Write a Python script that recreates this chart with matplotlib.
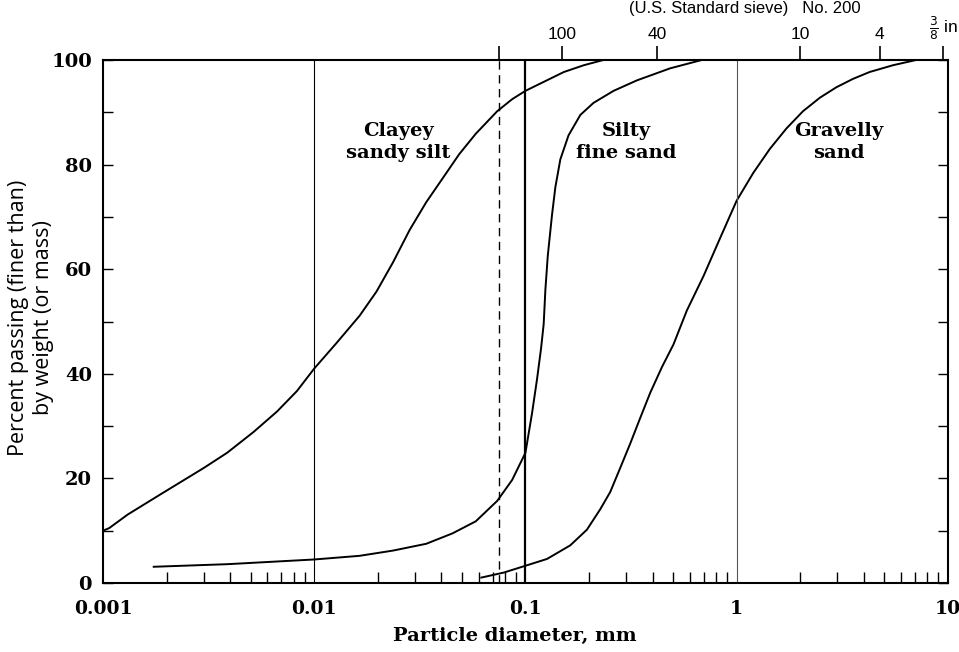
import matplotlib
matplotlib.use("Agg")
import matplotlib.pyplot as plt
from matplotlib.ticker import FixedLocator, NullFormatter, NullLocator, LogLocator

# ---- data ----
clay_d = [0.001, 0.00107, 0.00131, 0.00188, 0.00242, 0.0030, 0.00387, 0.00517, 0.00667,
          0.00828, 0.01, 0.01276, 0.0164, 0.0197, 0.0236, 0.0283, 0.0339, 0.0406, 0.0486,
          0.0582, 0.0735, 0.0865, 0.1, 0.152, 0.189, 0.234]
clay_p = [10.0, 10.5, 13.1, 17.0, 19.7, 22.0, 24.9, 28.9, 32.8,
          36.7, 41.0, 45.9, 51.1, 55.7, 61.3, 67.5, 72.8, 77.4, 82.0,
          85.9, 90.2, 92.5, 94.1, 97.7, 99.0, 100.0]

silt_d = [0.00172, 0.00387, 0.01, 0.0164, 0.0236, 0.0339, 0.0452, 0.0582, 0.0735, 0.0865,
          0.1, 0.1075, 0.1135, 0.1186, 0.122, 0.1243, 0.1276, 0.1337, 0.1386, 0.1463,
          0.160, 0.182, 0.210, 0.2614, 0.337, 0.484, 0.684]
silt_p = [3.1, 3.6, 4.5, 5.2, 6.2, 7.5, 9.5, 11.8, 15.7, 19.7,
          24.9, 32.5, 39.0, 44.9, 49.5, 56.1, 62.6, 70.5, 75.7, 81.0,
          85.6, 89.5, 91.8, 94.1, 96.1, 98.4, 100.0]

grav_d = [0.0612, 0.079, 0.1, 0.1265, 0.163, 0.1955, 0.226, 0.252, 0.281, 0.313,
          0.349, 0.39, 0.443, 0.502, 0.581, 0.697, 0.834, 1.0, 1.198, 1.436,
          1.72, 2.06, 2.48, 2.97, 3.56, 4.26, 5.5, 7.08]
grav_p = [1.0, 2.0, 3.3, 4.6, 7.2, 10.2, 14.1, 17.4, 22.0, 26.6,
          31.5, 36.4, 41.3, 45.6, 52.1, 58.7, 65.9, 73.1, 78.4, 83.0,
          86.9, 90.2, 92.8, 94.8, 96.4, 97.7, 99.0, 100.0]

sieve_d = [0.075, 0.149, 0.42, 2.0, 4.75, 9.5]
sieve_lbl = ["", "100", "40", "10", "4", r"$\frac{3}{8}$ in"]

x_major = [0.001, 0.01, 0.1, 1, 10]
x_major_lbl = ["0.001", "0.01", "0.1", "1", "10"]
y_major = [0, 20, 40, 60, 80, 100]

curve_labels = ["Clayey\nsandy silt", "Silty\nfine sand", "Gravelly\nsand"]
label_x = [0.025, 0.30, 3.05]
label_y = [84.3, 84.3, 84.3]

ref_lines = [0.01, 0.075, 0.1, 1.0]

# ---- figure ----
fig = plt.figure(figsize=(9.59, 6.52), dpi=100)
ax = fig.add_axes([0.1074, 0.1058, 0.881, 0.8022])
serif = "DejaVu Serif"
sans = "Liberation Sans"

ax.set_xscale("log")
ax.set_xlim(0.001, 10)
ax.set_ylim(0, 100)

for d, p in [(clay_d, clay_p), (silt_d, silt_p), (grav_d, grav_p)]:
    ax.plot(d, p, color="black", lw=1.4, solid_capstyle="butt", solid_joinstyle="round")

# reference vertical lines
ax.axvline(ref_lines[0], color="black", lw=0.8)
ax.axvline(ref_lines[1], color="black", lw=1.0, ls=(0, (6, 4)))
ax.axvline(ref_lines[2], color="black", lw=1.6)
ax.axvline(ref_lines[3], color="#555555", lw=0.8)

for s in ax.spines.values():
    s.set_linewidth(1.5)

# x ticks
ax.xaxis.set_major_locator(FixedLocator(x_major))
ax.set_xticklabels(x_major_lbl, fontfamily=serif, fontweight="bold", fontsize=13.5)
ax.tick_params(axis="x", which="major", length=0, pad=12)
ax.xaxis.set_minor_locator(LogLocator(base=10, subs=range(2, 10)))
ax.xaxis.set_minor_formatter(NullFormatter())
ax.tick_params(axis="x", which="minor", direction="in", length=8, width=1.0)

# y ticks
ax.set_yticks(y_major)
ax.set_yticklabels([str(v) for v in y_major], fontfamily=serif, fontweight="bold", fontsize=14)
ax.yaxis.set_minor_locator(FixedLocator([10, 30, 50, 70, 90]))
ax.tick_params(axis="y", which="both", direction="in", length=7, width=1.0,
               left=True, right=True, pad=8)

ax.set_xlabel("Particle diameter, mm", fontfamily=serif, fontweight="bold", fontsize=14)
ax.xaxis.set_label_coords((515 - 103) / 845, -0.085)

fig.text(31 / 959, 1 - 318 / 652, "Percent passing (finer than)\nby weight (or mass)",
         rotation=90, ha="center", va="center", fontfamily="Open Sans", fontsize=15.5,
         linespacing=1.2, multialignment="center")

# curve labels
for t, x, y in zip(curve_labels, label_x, label_y):
    ax.text(x, y, t, ha="center", va="center", fontfamily=serif, fontweight="bold",
            fontsize=14, linespacing=1.3)

# top sieve axis
top = ax.twiny()
top.set_xscale("log")
top.set_xlim(ax.get_xlim())
top.xaxis.set_major_locator(FixedLocator(sieve_d))
top.xaxis.set_minor_locator(NullLocator())
top.set_xticklabels(sieve_lbl, fontfamily=sans, fontsize=12.5)
top.tick_params(axis="x", which="major", direction="out", length=10, width=1.2, pad=3)
for s in top.spines.values():
    s.set_visible(False)

fig.text(745 / 959, 1 - 8 / 652, "(U.S. Standard sieve)   No. 200", ha="center", va="center",
         fontfamily=sans, fontsize=12)

fig.savefig("out.png", dpi=100)
